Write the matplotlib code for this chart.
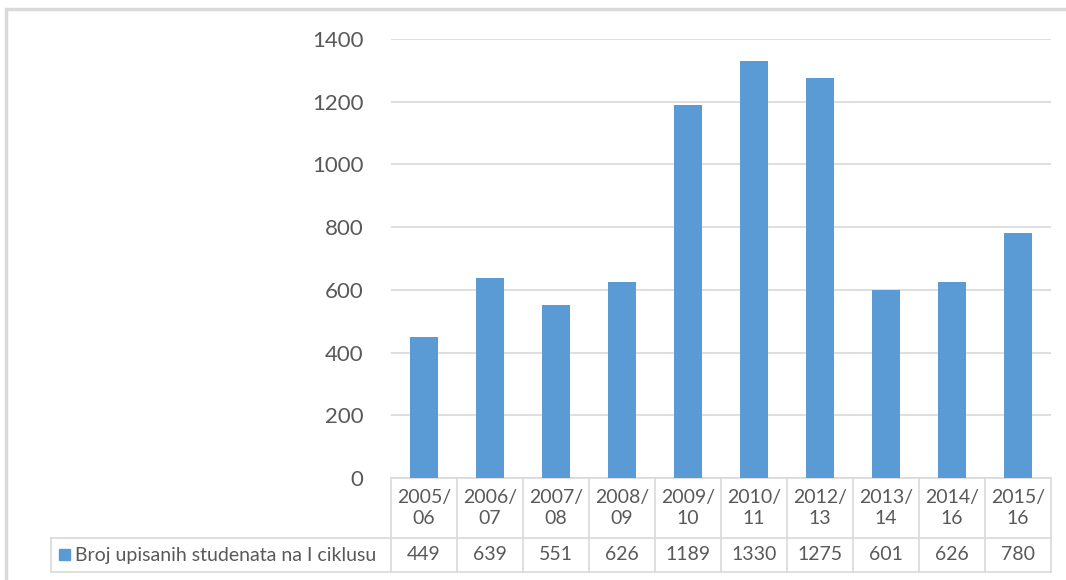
import matplotlib.pyplot as plt
from matplotlib.transforms import blended_transform_factory
from matplotlib.patches import Rectangle

plt.rcParams['font.family'] = ['Lato', 'DejaVu Sans']

# podaci
godine = ['2005/\n06', '2006/\n07', '2007/\n08', '2008/\n09', '2009/\n10',
          '2010/\n11', '2012/\n13', '2013/\n14', '2014/\n16', '2015/\n16']
studenti = [449, 639, 551, 626, 1189, 1330, 1275, 601, 626, 780]
naziv = 'Broj upisanih studenata na I ciklusu'

bar_col = '#5B9BD5'
txt_col = '#595959'
grid_col = '#D9D9D9'

W, H = 1066, 580
fig = plt.figure(figsize=(W / 100, H / 100), dpi=100)

# okvir grafikona
fig.patches.append(Rectangle((6 / W, -0.1), 1.5, 1 - 9 / H + 0.1, transform=fig.transFigure,
                             fill=False, edgecolor='#D9D9D9', lw=2.5))

ax = fig.add_axes([391 / W, 1 - 478 / H, 660 / W, 439 / H])
x = list(range(len(studenti)))
ax.bar(x, studenti, width=0.41, color=bar_col, zorder=3)
ax.set_xlim(-0.5, len(studenti) - 0.5)
ax.set_ylim(0, 1400)
ax.set_yticks(range(0, 1401, 200))
ax.yaxis.grid(True, color=grid_col, lw=1.2, zorder=0)
ax.set_xticks([])
ax.tick_params(axis='y', length=0, pad=20, labelsize=16, labelcolor=txt_col)
for s in ['top', 'right', 'left']:
    ax.spines[s].set_visible(False)
ax.spines['bottom'].set_color(grid_col)
ax.spines['bottom'].set_linewidth(1.2)

# tabela podataka
tr = blended_transform_factory(ax.transData, ax.transAxes)
y_mid = -(538 - 478) / 439
y_bot = -(572 - 478) / 439
lc = dict(color=grid_col, lw=1.2, clip_on=False)
for i in range(len(studenti) + 1):
    ax.plot([i - 0.5, i - 0.5], [0, y_bot], transform=tr, **lc)
for i, (g, v) in enumerate(zip(godine, studenti)):
    ax.text(i, y_mid / 2, g, transform=tr, ha='center', va='center',
            fontsize=14, color=txt_col, linespacing=1.3)
    ax.text(i, (y_mid + y_bot) / 2, str(v), transform=tr, ha='center', va='center',
            fontsize=14, color=txt_col)

# legenda u tabeli
ax.plot([(51 - 391) / 660, 1], [y_mid, y_mid], transform=ax.transAxes, **lc)
ax.plot([(51 - 391) / 660, 1], [y_bot, y_bot], transform=ax.transAxes, **lc)
ax.plot([(51 - 391) / 660] * 2, [y_mid, y_bot], transform=ax.transAxes, **lc)
fig.patches.append(Rectangle((59 / W, 1 - 560 / H), 11 / W, 11 / H, transform=fig.transFigure,
                             color=bar_col))
fig.text(75 / W, 1 - 555 / H, naziv, ha='left', va='center', fontsize=14, color=txt_col)

fig.savefig('out.png', dpi=100)
